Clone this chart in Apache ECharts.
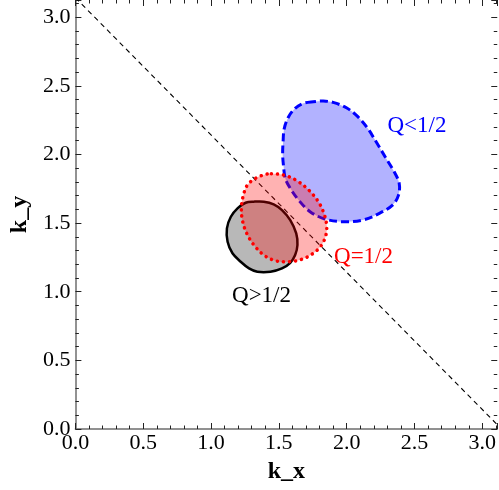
<!DOCTYPE html>
<html>
<head>
<meta charset="utf-8">
<script src="https://cdn.jsdelivr.net/npm/echarts@6/dist/echarts.min.js"></script>
<style>html,body{margin:0;padding:0;background:#fff}#c{width:499px;height:490px}</style>
</head>
<body>
<div id="c"></div>
<script>
// Contour outlines (k_x, k_y)
const blueQlt = [[1.754,2.384],[1.681,2.372],[1.620,2.336],[1.572,2.275],[1.540,2.190],[1.531,2.092],[1.528,1.996],[1.535,1.910],[1.547,1.826],[1.584,1.753],[1.645,1.668],[1.730,1.583],[1.839,1.530],[1.973,1.510],[2.119,1.522],[2.241,1.571],[2.338,1.631],[2.382,1.704],[2.387,1.790],[2.350,1.874],[2.290,1.972],[2.217,2.092],[2.155,2.190],[2.082,2.275],[1.998,2.340],[1.900,2.379],[1.827,2.389]];
const redQeq = [[1.414,1.857],[1.328,1.826],[1.268,1.777],[1.239,1.704],[1.224,1.619],[1.231,1.522],[1.263,1.425],[1.316,1.340],[1.389,1.267],[1.474,1.226],[1.572,1.218],[1.669,1.236],[1.754,1.280],[1.815,1.340],[1.847,1.413],[1.852,1.486],[1.832,1.571],[1.791,1.656],[1.725,1.736],[1.645,1.801],[1.560,1.843],[1.487,1.857]];
const blackQgt = [[1.316,1.656],[1.255,1.648],[1.195,1.607],[1.146,1.546],[1.117,1.462],[1.122,1.364],[1.158,1.280],[1.219,1.218],[1.280,1.170],[1.341,1.146],[1.438,1.146],[1.523,1.170],[1.584,1.211],[1.620,1.267],[1.637,1.340],[1.628,1.425],[1.584,1.522],[1.523,1.595],[1.462,1.637],[1.389,1.656]];
const diagonal = [[0,3.1416],[3.1416,0]];
const labelTexts = ['Q<1/2','Q=1/2','Q>1/2'];
const labelPos = [[2.518,2.207],[2.124,1.253],[1.372,0.969]];
const labelColors = ['#0000ff','#ff0000','#000000'];
const xMax = 3.11, yMax = 3.125, tickStep = 0.5;

const FONT = "'Liberation Serif', 'Times New Roman', serif";
function contour(points, stroke, fill, lineWidth, dash, cap, z) {
  return {
    type: 'custom', coordinateSystem: 'cartesian2d', z: z, clip: true,
    data: points, encode: {x: 0, y: 1}, silent: true,
    renderItem: function (params, api) {
      if (params.dataIndex !== 0) return null;
      return {
        type: 'polygon',
        shape: {points: points.map(p => api.coord(p)), smooth: 0.35},
        style: {fill: fill, stroke: stroke, lineWidth: lineWidth, lineDash: dash, lineCap: cap, lineJoin: 'round'}
      };
    }
  };
}
function fmt(v) {
  const r = Math.round(v / tickStep) * tickStep;
  return Math.abs(r - v) < 1e-6 ? v.toFixed(1) : '';
}
function mkAxis(pos, show, isX) {
  return {
    type: 'value', min: 0, max: isX ? xMax : yMax, interval: tickStep, position: pos,
    splitLine: {show: false},
    axisLine: {show: show, onZero: false, lineStyle: {color: '#6e6e6e', width: 1.5}},
    axisTick: {show: true, inside: true, length: 6, lineStyle: {color: '#222', width: 1}},
    minorTick: {show: true, splitNumber: 5, length: 3.5, lineStyle: {color: '#222', width: 1}},
    axisLabel: {show: show, formatter: fmt, fontFamily: FONT, fontSize: 22, color: '#000', margin: isX ? 3 : 5, showMaxLabel: false}
  };
}
const xb = mkAxis('bottom', true, true);
xb.name = 'k_x'; xb.nameLocation = 'middle'; xb.nameGap = 31;
xb.nameTextStyle = {fontFamily: FONT, fontWeight: 'bold', fontSize: 24, color: '#000'};
const yl = mkAxis('left', true, false);
yl.name = 'k_y'; yl.nameLocation = 'middle'; yl.nameGap = 41; yl.nameRotate = 90;
yl.nameTextStyle = {fontFamily: FONT, fontWeight: 'bold', fontSize: 24, color: '#000'};
const xt = mkAxis('top', false, true);
const yr = mkAxis('right', false, false);

const chart = echarts.init(document.getElementById('c'), null, {renderer: 'canvas'});
chart.setOption({
  animation: false,
  grid: {left: 73, right: 0, top: 0, bottom: 61, containLabel: false},
  xAxis: [xb, xt],
  yAxis: [yl, yr],
  series: [
    {type: 'line', data: diagonal, showSymbol: false, symbol: 'none', z: 1, silent: true,
     lineStyle: {color: '#000', width: 1.1, type: [5, 4]}},
    contour(blackQgt, '#000000', 'rgba(0,0,0,0.28)', 2.5, null, 'round', 2),
    contour(blueQlt, '#0000ff', 'rgba(0,0,255,0.3)', 3, [8, 4], 'butt', 3),
    contour(redQeq, '#ff0000', 'rgba(255,0,0,0.3)', 3.5, [0.1, 6], 'round', 4),
    {type: 'custom', coordinateSystem: 'cartesian2d', z: 5, silent: true,
     data: labelPos, encode: {x: 0, y: 1},
     renderItem: function (params, api) {
       const i = params.dataIndex;
       const c = api.coord(labelPos[i]);
       return {type: 'text', x: c[0], y: c[1],
         style: {text: labelTexts[i], fill: labelColors[i], font: '23px ' + FONT, align: 'center', verticalAlign: 'middle'}};
     }}
  ]
});
</script>
</body>
</html>
